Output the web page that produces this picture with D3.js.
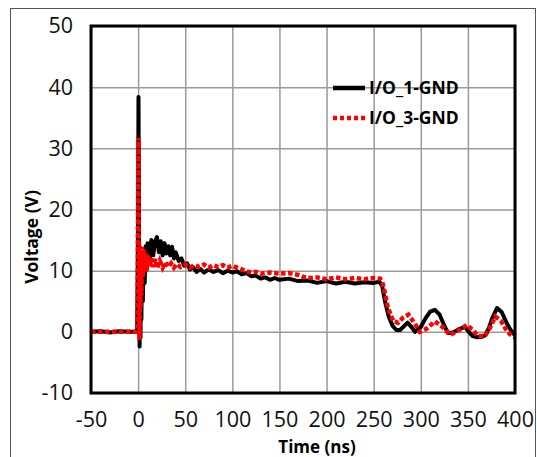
<!DOCTYPE html>
<html>
<head>
<meta charset="utf-8">
<script src="https://cdn.jsdelivr.net/npm/d3@7"></script>
<style>
  body { margin: 0; background: #fff; }
  svg { display: block; }
</style>
</head>
<body>
<div id="chart"></div>
<script>
// values
var xTicks = [-50, 0, 50, 100, 150, 200, 250, 300, 350, 400];
var yTicks = [-10, 0, 10, 20, 30, 40, 50];
var seriesNames = ["I/O_1-GND", "I/O_3-GND"];

// I/O_1-GND  [time ns, voltage V]
var io1 = [
  [-50,0],[-40,0.1],[-30,-0.1],[-20,0.1],[-10,0],[-3,0],[-1,0.3],
  [0,20],[0.4,38.4],[0.8,25],[1.2,5],[1.6,-2.4],[2,4],[2.5,-1],[3,8],[3.5,2],[4,10],
  [5,5],[6,12],[7,8],[8,14],[9,11],[10,14.5],[12,11.5],[14,15],[16,12.5],[18,14.8],
  [20,15.5],[22,13],[24,14.8],[26,12.5],[28,14.5],[30,12.8],[32,14],[34,12.5],[36,13.9],
  [38,12],[40,13],[43,11.6],[46,12],[49,10.8],[52,11.2],[55,10.2],[58,10.6],[62,9.8],
  [66,10.3],[70,9.7],[75,10.2],[80,9.8],[85,10.1],[90,9.6],[95,10],[100,9.7],[105,9.9],
  [110,9.4],[115,9.6],[120,9.1],[125,9.2],[130,8.7],[135,8.9],[140,8.5],[145,8.8],
  [150,8.5],[160,8.7],[170,8.3],[180,8.4],[190,8.0],[200,8.3],[210,7.9],[220,8.2],
  [230,7.9],[240,8.1],[250,8.0],[256,8.2],[259,7.5],[262,5],[266,2.5],[270,1],
  [274,0.3],[278,0.3],[282,0.9],[286,1.5],[290,0.8],[294,0],[300,0.8],[305,2.2],
  [310,3.3],[315,3.6],[320,2.8],[325,1.0],[329,-0.2],[334,-0.1],[340,0.4],[347,0.8],
  [351,0],[355,-0.7],[360,-0.9],[365,-0.8],[368,-0.6],[372,0.5],[376,2.3],[381,3.9],
  [386,3.2],[391,1.5],[395,0.4],[398,-0.2],[400,-0.6]
];

// I/O_3-GND  [time ns, voltage V]
var io3 = [
  [-50,0],[-40,0],[-30,0],[-20,0],[-10,0],[-2,0],[-0.5,0.3],
  [0.3,31.7],[0.7,18],[1.1,3],[1.5,-1.3],[2,14],[2.5,4],[3,12],[3.5,6],[4,13.9],
  [5,9],[6,13.5],[7,10],[8,12.8],[9,9.8],[10,12.5],
  [12,10.5],[14,12],[16,10.6],[18,11.9],[20,10.4],
  [23,11.6],[26,10.5],[29,11.4],[32,10.6],[35,11.2],[38,10.5],[41,11.1],[45,10.6],[50,11],
  [55,10.5],[60,10.9],[65,10.6],[70,11],[75,10.5],[80,10.9],[85,10.6],[90,10.9],[95,10.5],[100,10.8],
  [105,10.5],[110,10.2],[115,9.9],[120,9.7],[125,9.8],[130,9.5],
  [140,9.7],[150,9.5],[160,9.6],[170,9.3],[175,9.0],[180,8.8],
  [190,8.9],[200,8.6],[210,8.9],[220,8.6],[230,8.8],[240,8.6],[250,8.8],
  [257,8.7],[259,8.2],[261,7],[263,5.5],[265,4],[268,2.8],[271,1.7],
  [276,1.5],[281,2.3],[287,2.8],[293,1.5],[299,0],[306,0.5],[315,1.7],[323,0.8],[331,-0.5],
  [340,0.2],[349,1.1],[355,0.3],[361,-0.7],[368,-0.7],[373,0.5],[379,2.5],[385,1.8],
  [392,0],[398,-0.8],[400,-0.9]
];

var width = 537,
    height = 457,
    margin = {top: 26, right: 22, bottom: 64, left: 91};

var svg = d3.select("#chart").append("svg")
    .attr("width", width)
    .attr("height", height);

// outer frame
svg.append("rect")
    .attr("x", 10.5).attr("y", 8.5)
    .attr("width", 525).attr("height", 470)
    .attr("fill", "none")
    .attr("stroke", "#555")
    .attr("stroke-width", 1);

var x = d3.scaleLinear().domain([-50, 400]).range([margin.left, width - margin.right]);
var y = d3.scaleLinear().domain([-10, 50]).range([height - margin.bottom, margin.top]);

// grid
svg.append("g")
    .attr("transform", "translate(0," + y(-10) + ")")
    .call(d3.axisBottom(x).tickValues(xTicks).tickSize(-(y(-10) - y(50))).tickFormat(""))
    .call(function(g) {
        g.select(".domain").remove();
        g.selectAll("line").attr("stroke", "#9a9a9a").attr("stroke-width", 1.5);
    });

svg.append("g")
    .attr("transform", "translate(" + x(-50) + ",0)")
    .call(d3.axisLeft(y).tickValues(yTicks).tickSize(-(x(400) - x(-50))).tickFormat(""))
    .call(function(g) {
        g.select(".domain").remove();
        g.selectAll("line").attr("stroke", "#9a9a9a").attr("stroke-width", 1.5);
    });

// tick labels
svg.append("g")
    .attr("transform", "translate(0," + y(-10) + ")")
    .call(d3.axisBottom(x).tickValues(xTicks).tickSize(0).tickPadding(19))
    .call(function(g) {
        g.select(".domain").remove();
        g.selectAll("text")
            .attr("font-family", "'Open Sans', sans-serif")
            .attr("font-size", 21.5)
            .attr("fill", "#111")
            .text(function(d) { return d < 0 ? "-" + Math.abs(d) : d; });
    });

svg.append("g")
    .attr("transform", "translate(" + x(-50) + ",0)")
    .call(d3.axisLeft(y).tickValues(yTicks).tickSize(0).tickPadding(18))
    .call(function(g) {
        g.select(".domain").remove();
        g.selectAll("text")
            .attr("font-family", "'Open Sans', sans-serif")
            .attr("font-size", 21.5)
            .attr("fill", "#111")
            .text(function(d) { return d < 0 ? "-" + Math.abs(d) : d; });
    });

// series
var line = d3.line()
    .x(function(d) { return x(d[0]); })
    .y(function(d) { return y(d[1]); });

svg.append("path")
    .datum(io1)
    .attr("d", line)
    .attr("fill", "none")
    .attr("stroke", "#000")
    .attr("stroke-width", 4)
    .attr("stroke-linejoin", "round");

svg.append("path")
    .datum(io3)
    .attr("d", line)
    .attr("fill", "none")
    .attr("stroke", "#ff0000")
    .attr("stroke-width", 4.5)
    .attr("stroke-dasharray", "4.5,2.5");

// plot border
svg.append("rect")
    .attr("x", x(-50)).attr("y", y(50))
    .attr("width", x(400) - x(-50))
    .attr("height", y(-10) - y(50))
    .attr("fill", "none")
    .attr("stroke", "#000")
    .attr("stroke-width", 3);

// axis titles
svg.append("text")
    .attr("x", 317).attr("y", 453)
    .attr("text-anchor", "middle")
    .attr("font-family", "'Open Sans', sans-serif")
    .attr("font-weight", "bold")
    .attr("font-size", 17)
    .text("Time (ns)");

svg.append("text")
    .attr("transform", "translate(38,237) rotate(-90)")
    .attr("text-anchor", "middle")
    .attr("font-family", "'Open Sans', sans-serif")
    .attr("font-weight", "bold")
    .attr("font-size", 17.5)
    .text("Voltage (V)");

// legend
var legend = svg.append("g").attr("transform", "translate(333,88)");
var styles = [
    {stroke: "#000", width: 4.5, dash: null},
    {stroke: "#ff0000", width: 4.5, dash: "4,3"}
];
seriesNames.forEach(function(name, i) {
    var row = legend.append("g").attr("transform", "translate(0," + i * 30 + ")");
    row.append("line")
        .attr("x1", 0).attr("x2", 32)
        .attr("stroke", styles[i].stroke)
        .attr("stroke-width", styles[i].width)
        .attr("stroke-dasharray", styles[i].dash);
    row.append("text")
        .attr("x", 36).attr("dy", "0.36em")
        .attr("font-family", "'Open Sans', sans-serif")
        .attr("font-weight", "bold")
        .attr("font-size", 17.5)
        .text(name);
});
</script>
</body>
</html>
